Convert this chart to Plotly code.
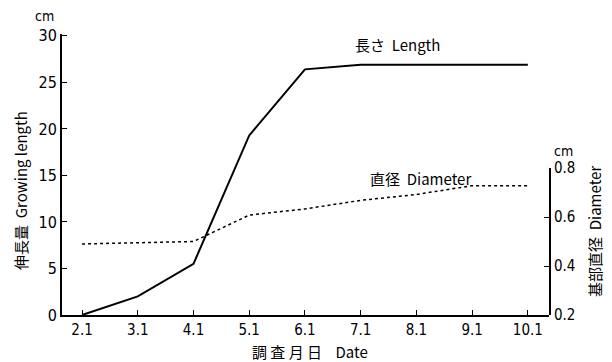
import plotly.graph_objects as go

months = [2, 3, 4, 5, 6, 7, 8, 9, 10]
tick_labels = ["2.1", "3.1", "4.1", "5.1", "6.1", "7.1", "8.1", "9.1", "10.1"]
length_cm = [0.0, 2.0, 5.5, 19.3, 26.4, 26.9, 26.9, 26.9, 26.9]
diameter_cm = [0.49, 0.495, 0.50, 0.608, 0.633, 0.668, 0.692, 0.728, 0.728]
left_ticks = [0, 5, 10, 15, 20, 25, 30]
right_ticks = [0.2, 0.4, 0.6, 0.8]

FONT = "DejaVu Sans Condensed, Liberation Sans, Noto Sans CJK JP"
CJK = "Noto Sans CJK JP, DejaVu Sans"

OFF = 8  # page body margin
W, H = 612 - OFF, 362 - OFF
# plot area in screen pixels: x 62..549, y 34..315
ML, MT = 62 - OFF, 34 - OFF
MR = W - (549 - OFF)
MB = H - (315 - OFF)

fig = go.Figure()
fig.add_trace(go.Scatter(x=months, y=length_cm, mode="lines",
                         line=dict(color="black", width=2), yaxis="y",
                         showlegend=False))
fig.add_trace(go.Scatter(x=months, y=diameter_cm, mode="lines",
                         line=dict(color="black", width=1.5, dash="dot"),
                         yaxis="y2", showlegend=False))

fig.update_layout(
    width=W, height=H,
    margin=dict(l=ML, r=MR, t=MT, b=MB, autoexpand=False),
    paper_bgcolor="white", plot_bgcolor="rgba(0,0,0,0)",
    font=dict(family=FONT, size=15, color="black"),
    xaxis=dict(range=[1.64, 10.38], tickvals=months, ticktext=tick_labels,
               showline=True, linecolor="black", linewidth=2,
               ticks="inside", ticklen=5, tickcolor="black",
               showgrid=False, zeroline=False, automargin=False,
               tickfont=dict(size=15)),
    yaxis=dict(range=[0, 30.2], tickvals=left_ticks,
               showline=True, linecolor="black", linewidth=2,
               ticks="inside", ticklen=5, tickcolor="black", automargin=False,
               showgrid=False, zeroline=False, tickfont=dict(size=16)),
    yaxis2=dict(range=[0.2, 0.8], domain=[0, 0.523], anchor="x", side="right",
                tickvals=right_ticks, ticktext=["0.2", "0.4", "0.6", "0.8"],
                showline=True, linecolor="black", linewidth=2,
                ticks="inside", ticklen=5, tickcolor="black", automargin=False,
                showgrid=False, zeroline=False, tickfont=dict(size=15)),
)


def paper_xy(px, py):
    # px, py: screen pixel coordinates
    fx, fy = px - OFF, py - OFF
    return ((fx - ML) / (W - ML - MR), 1 - (fy - MT) / (H - MT - MB))


ann = [
    dict(x=44, y=16, text="cm", size=14),
    dict(x=563, y=151, text="cm", size=14),
    dict(x=397, y=44, text="長さ  Length", size=15),
    dict(x=420, y=178, text="直径  Diameter", size=15),
    dict(x=310, y=351, text="調 査 月 日    Date", size=15),
]
for a in ann:
    px, py = paper_xy(a["x"], a["y"])
    fig.add_annotation(x=px, y=py, xref="paper", yref="paper",
                       text=a["text"], showarrow=False, xanchor="center", yanchor="middle",
                       font=dict(family=CJK if any(ord(c) > 127 for c in a["text"]) else FONT,
                                 size=a["size"], color="black"))

x1, y1 = paper_xy(20, 191)
fig.add_annotation(x=x1, y=y1, xref="paper", yref="paper", text="伸長量  Growing length",
                   textangle=-90, showarrow=False, xanchor="center", yanchor="middle",
                   font=dict(family=CJK, size=15, color="black"))
x2, y2 = paper_xy(594, 232)
fig.add_annotation(x=x2, y=y2, xref="paper", yref="paper", text="基部直径  Diameter",
                   textangle=-90, showarrow=False, xanchor="center", yanchor="middle",
                   font=dict(family=CJK, size=15, color="black"))

fig.write_html("out.html")
